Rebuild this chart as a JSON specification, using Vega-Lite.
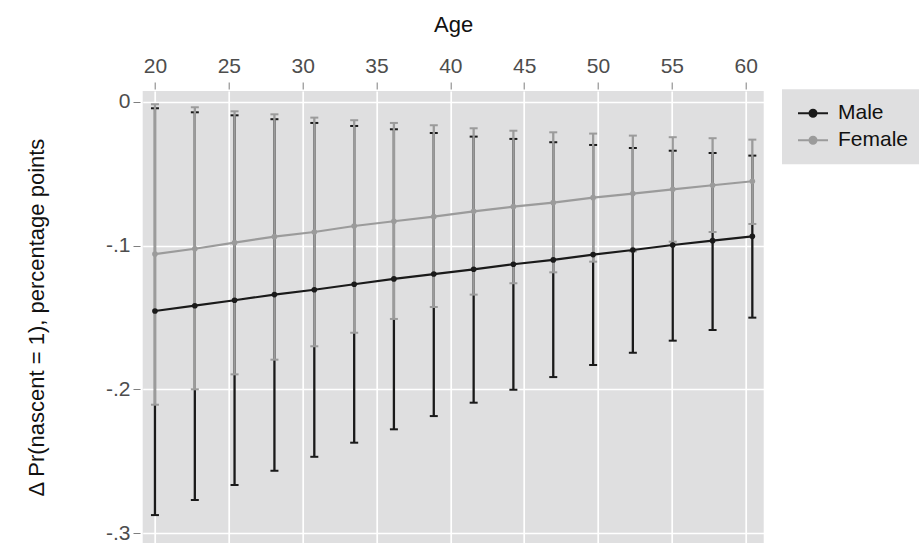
{
  "$schema": "https://vega.github.io/schema/vega-lite/v6.json",
  "autosize": {"type": "none"},
  "padding": {"left": 142.7, "top": 91, "right": 155.3, "bottom": 0},
  "width": 621,
  "height": 452,
  "background": "white",
  "config": {
    "view": {"fill": "#dfdfe0", "stroke": null},
    "font": "Liberation Sans",
    "axis": {
      "domain": false,
      "grid": true,
      "gridColor": "#ffffff",
      "gridWidth": 1.7,
      "gridOpacity": 1,
      "tickColor": "#7f7f7f",
      "tickWidth": 1,
      "tickSize": 7,
      "labelFont": "Liberation Sans",
      "labelFontSize": 21,
      "labelColor": "#4d4d4d",
      "titleFont": "Liberation Sans",
      "titleFontSize": 22,
      "titleFontWeight": "normal",
      "titleColor": "#111111",
      "labelOverlap": false,
      "labelFlush": false
    }
  },
  "datasets": {
    "est": [
      {"age": 20.00, "sex": "Male", "est": -0.1455, "lo": -0.2873, "hi": -0.0046},
      {"age": 22.70, "sex": "Male", "est": -0.1418, "lo": -0.2768, "hi": -0.0074},
      {"age": 25.39, "sex": "Male", "est": -0.1380, "lo": -0.2664, "hi": -0.0095},
      {"age": 28.09, "sex": "Male", "est": -0.1341, "lo": -0.2565, "hi": -0.0122},
      {"age": 30.79, "sex": "Male", "est": -0.1307, "lo": -0.2468, "hi": -0.0148},
      {"age": 33.49, "sex": "Male", "est": -0.1269, "lo": -0.2370, "hi": -0.0169},
      {"age": 36.18, "sex": "Male", "est": -0.1232, "lo": -0.2277, "hi": -0.0192},
      {"age": 38.88, "sex": "Male", "est": -0.1198, "lo": -0.2185, "hi": -0.0218},
      {"age": 41.58, "sex": "Male", "est": -0.1165, "lo": -0.2092, "hi": -0.0243},
      {"age": 44.27, "sex": "Male", "est": -0.1130, "lo": -0.2002, "hi": -0.0259},
      {"age": 46.97, "sex": "Male", "est": -0.1100, "lo": -0.1914, "hi": -0.0282},
      {"age": 49.67, "sex": "Male", "est": -0.1063, "lo": -0.1830, "hi": -0.0301},
      {"age": 52.36, "sex": "Male", "est": -0.1031, "lo": -0.1745, "hi": -0.0322},
      {"age": 55.06, "sex": "Male", "est": -0.0996, "lo": -0.1661, "hi": -0.0341},
      {"age": 57.76, "sex": "Male", "est": -0.0966, "lo": -0.1587, "hi": -0.0357},
      {"age": 60.45, "sex": "Male", "est": -0.0936, "lo": -0.1501, "hi": -0.0375},
      {"age": 20.00, "sex": "Female", "est": -0.1059, "lo": -0.2106, "hi": -0.0018},
      {"age": 22.70, "sex": "Female", "est": -0.1022, "lo": -0.1999, "hi": -0.0039},
      {"age": 25.39, "sex": "Female", "est": -0.0980, "lo": -0.1895, "hi": -0.0067},
      {"age": 28.09, "sex": "Female", "est": -0.0938, "lo": -0.1793, "hi": -0.0088},
      {"age": 30.79, "sex": "Female", "est": -0.0906, "lo": -0.1700, "hi": -0.0111},
      {"age": 33.49, "sex": "Female", "est": -0.0864, "lo": -0.1606, "hi": -0.0129},
      {"age": 36.18, "sex": "Female", "est": -0.0831, "lo": -0.1510, "hi": -0.0148},
      {"age": 38.88, "sex": "Female", "est": -0.0799, "lo": -0.1427, "hi": -0.0164},
      {"age": 41.58, "sex": "Female", "est": -0.0762, "lo": -0.1341, "hi": -0.0185},
      {"age": 44.27, "sex": "Female", "est": -0.0730, "lo": -0.1262, "hi": -0.0202},
      {"age": 46.97, "sex": "Female", "est": -0.0702, "lo": -0.1186, "hi": -0.0213},
      {"age": 49.67, "sex": "Female", "est": -0.0667, "lo": -0.1112, "hi": -0.0222},
      {"age": 52.36, "sex": "Female", "est": -0.0639, "lo": -0.1040, "hi": -0.0236},
      {"age": 55.06, "sex": "Female", "est": -0.0609, "lo": -0.0973, "hi": -0.0247},
      {"age": 57.76, "sex": "Female", "est": -0.0581, "lo": -0.0906, "hi": -0.0254},
      {"age": 60.45, "sex": "Female", "est": -0.0553, "lo": -0.0850, "hi": -0.0264}
    ]
  },
  "data": {"name": "est"},
  "encoding": {
    "x": {
      "field": "age",
      "type": "quantitative",
      "scale": {"domain": [19.17, 61.22], "nice": false, "zero": false},
      "axis": {
        "orient": "top",
        "values": [20, 25, 30, 35, 40, 45, 50, 55, 60],
        "labelAngle": 0,
        "labelBaseline": "alphabetic",
        "labelPadding": 9.3,
        "offset": 2,
        "title": "Age",
        "titleY": -58,
        "titleBaseline": "alphabetic"
      }
    },
    "color": {
      "field": "sex",
      "type": "nominal",
      "scale": {"domain": ["Male", "Female"], "range": ["#1a1a1a", "#9b9b9b"]},
      "legend": {
        "orient": "none",
        "legendX": 639.3,
        "legendY": -1.7,
        "title": null,
        "fillColor": "#dfdfe0",
        "padding": 13.5,
        "symbolType": "M-2,0L2,0M0.467,0A0.467,0.467,0,1,1,-0.467,0A0.467,0.467,0,1,1,0.467,0Z",
        "symbolSize": 225,
        "symbolOffset": 7,
        "symbolStrokeWidth": 2,
        "labelOffset": 14.5,
        "rowPadding": 5,
        "labelFont": "Liberation Sans",
        "labelFontSize": 21,
        "labelColor": "#111111",
        "encode": {
          "symbols": {
            "update": {
              "fill": {"scale": "color", "field": "value"},
              "stroke": {"scale": "color", "field": "value"},
              "strokeWidth": {"value": 2},
              "opacity": {"value": 1}
            }
          }
        }
      }
    }
  },
  "layer": [
    {
      "transform": [{"filter": "datum.sex === 'Male'"}],
      "layer": [
        {
          "mark": {"type": "rule", "strokeWidth": 2.3},
          "encoding": {
            "y": {"field": "lo", "type": "quantitative"},
            "y2": {"field": "hi"}
          }
        },
        {
          "mark": {"type": "tick", "orient": "horizontal", "size": 8, "thickness": 2, "opacity": 1},
          "encoding": {"y": {"field": "lo", "type": "quantitative"}}
        },
        {
          "mark": {"type": "tick", "orient": "horizontal", "size": 8, "thickness": 2, "opacity": 1},
          "encoding": {"y": {"field": "hi", "type": "quantitative"}}
        }
      ]
    },
    {
      "transform": [{"filter": "datum.sex === 'Female'"}],
      "layer": [
        {
          "mark": {"type": "rule", "strokeWidth": 2.3},
          "encoding": {
            "y": {"field": "lo", "type": "quantitative"},
            "y2": {"field": "hi"}
          }
        },
        {
          "mark": {"type": "tick", "orient": "horizontal", "size": 8, "thickness": 2, "opacity": 1},
          "encoding": {"y": {"field": "lo", "type": "quantitative"}}
        },
        {
          "mark": {"type": "tick", "orient": "horizontal", "size": 8, "thickness": 2, "opacity": 1},
          "encoding": {"y": {"field": "hi", "type": "quantitative"}}
        }
      ]
    },
    {
      "mark": {"type": "line", "strokeWidth": 2.2},
      "encoding": {
        "y": {
          "field": "est",
          "type": "quantitative",
          "scale": {"domain": [-0.3067, 0.0074], "nice": false, "zero": false},
          "axis": {
            "values": [0, -0.1, -0.2, -0.3],
            "labelExpr": "datum.value == 0 ? '0' : '-.' + round(abs(datum.value) * 10)",
            "offset": 2.7,
            "labelPadding": 3,
            "title": "Δ Pr(nascent = 1), percentage points",
            "titleX": -96.5,
            "titleBaseline": "alphabetic"
          }
        }
      }
    },
    {
      "mark": {"type": "point", "filled": true, "size": 32, "opacity": 1},
      "encoding": {"y": {"field": "est", "type": "quantitative"}}
    }
  ]
}
